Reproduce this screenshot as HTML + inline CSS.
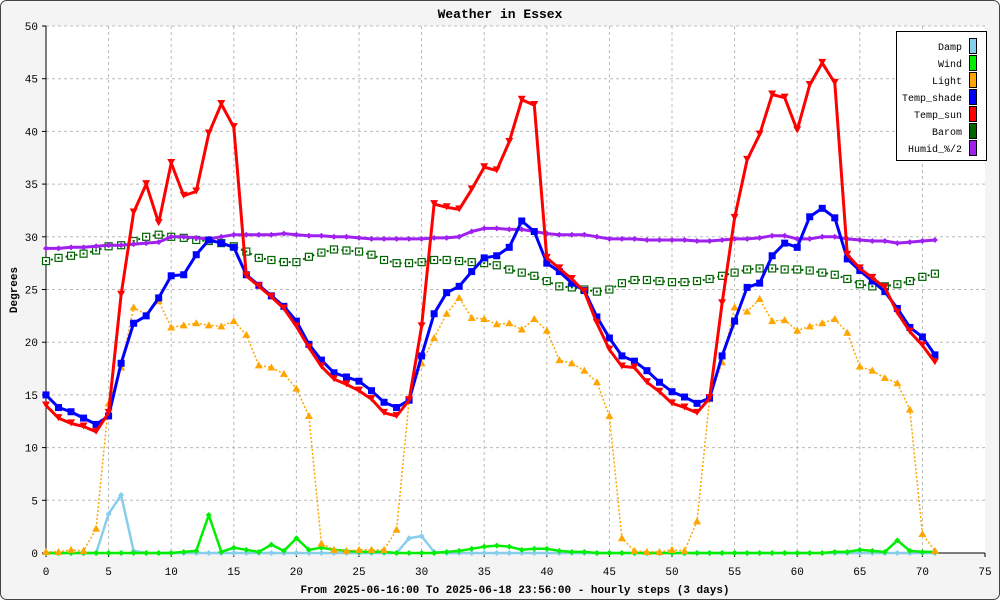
<!DOCTYPE html>
<html><head><meta charset="utf-8"><style>
body{margin:0;background:#fff}
svg{display:block;font-family:"Liberation Mono",monospace}
</style></head><body>
<svg id="chart" width="1000" height="600">
<rect x="0.5" y="0.5" width="999" height="599" rx="6" fill="#f4f4f4" stroke="#444"/>
<rect x="46" y="26" width="939" height="527" fill="#fff"/>
<text x="500" y="18" text-anchor="middle" font-size="13" font-weight="bold">Weather in Essex</text>
<text x="17" y="290" text-anchor="middle" font-size="11" font-weight="bold" transform="rotate(-90 17 290)">Degrees</text>
<text x="515" y="593" text-anchor="middle" font-size="11" font-weight="bold">From 2025-06-16:00 To 2025-06-18 23:56:00 - hourly steps (3 days)</text>
<g id="grid"></g><g id="axes"></g><g id="series"></g><g id="legend"></g>
</svg>
<script>
const xTicks=[0,5,10,15,20,25,30,35,40,45,50,55,60,65,70,75];
const yTicks=[0,5,10,15,20,25,30,35,40,45,50];
const seriesNames=["Damp","Wind","Light","Temp_shade","Temp_sun","Barom","Humid_%/2"];
const damp=[0,0,0,0,0,3.7,5.5,0.2,0,0,0,0,0,0,0,0,0,0,0,0,0,0,0,0,0,0,0,0,0,1.4,1.6,0.1,0,0,0,0,0,0,0,0,0,0,0,0,0,0,0,0,0,0,0,0,0,0,0,0,0,0,0,0,0,0,0,0,0,0,0,0,0,0,0,0];
const wind=[0,0,0,0,0,0,0,0,0,0,0,0.1,0.2,3.6,0.1,0.5,0.3,0.1,0.8,0.2,1.4,0.3,0.5,0.3,0.2,0.1,0.1,0.1,0,0,0,0,0.1,0.2,0.4,0.6,0.7,0.6,0.3,0.4,0.4,0.2,0.1,0.1,0,0,0,0,0,0,0,0,0,0,0,0,0,0,0,0,0,0,0,0.1,0.1,0.3,0.2,0.1,1.2,0.2,0.1,0.1];
const light=[0.1,0.1,0.3,0.2,2.3,14.2,17.6,23.3,22.6,23.9,21.4,21.6,21.8,21.6,21.5,22,20.7,17.8,17.6,17,15.6,13,0.9,0.3,0.2,0.3,0.3,0.3,2.2,14.5,18,20.4,22.7,24.2,22.3,22.2,21.7,21.8,21.2,22.2,21.1,18.3,18,17.3,16.2,13,1.4,0.2,0.1,0.1,0.3,0.2,3,14.6,18.1,23.3,22.9,24.1,22,22.1,21.1,21.5,21.8,22.2,20.9,17.7,17.3,16.6,16.1,13.6,1.8,0.2];
const tempShade=[15,13.8,13.4,12.8,12.2,13,18,21.8,22.5,24.2,26.3,26.4,28.3,29.7,29.4,29,26.4,25.4,24.4,23.4,22,19.8,18.3,17.1,16.7,16.3,15.4,14.3,13.8,14.5,18.7,22.7,24.7,25.3,26.7,28,28.2,29,31.5,30.5,27.5,26.7,25.6,24.9,22.4,20.4,18.7,18.2,17.3,16.2,15.3,14.8,14.2,14.7,18.7,22,25.2,25.6,28.2,29.4,29,31.9,32.7,31.8,27.9,26.8,25.8,24.8,23.2,21.4,20.5,18.8];
const tempSun=[14,12.8,12.3,12,11.5,13.3,24.5,32.3,35,31.3,37,33.9,34.3,39.8,42.6,40.4,26.3,25.3,24.3,23.2,21.5,19.5,17.7,16.5,16,15.4,14.6,13.3,13,14.5,21.5,33.1,32.8,32.6,34.5,36.6,36.3,39,43,42.5,28,27,26,24.8,21.8,19.3,17.7,17.6,16.2,15.3,14.2,13.8,13.3,14.7,23.7,31.8,37.3,39.7,43.5,43.2,40.1,44.4,46.5,44.6,28.3,27,26.1,25.2,22.8,21,19.7,18.1];
const barom=[27.7,28,28.2,28.4,28.7,29.1,29.2,29.6,30,30.2,30,29.9,29.7,29.6,29.4,29.1,28.6,28,27.8,27.6,27.6,28.1,28.5,28.8,28.7,28.6,28.3,27.8,27.5,27.5,27.6,27.8,27.8,27.7,27.6,27.5,27.3,26.9,26.6,26.3,25.8,25.3,25.2,25,24.8,25,25.6,25.9,25.9,25.8,25.7,25.7,25.8,26,26.3,26.6,26.9,27,27,26.9,26.9,26.8,26.6,26.4,26,25.5,25.3,25.3,25.5,25.8,26.2,26.5];
const humid=[28.9,28.9,29,29,29.1,29.2,29.2,29.3,29.4,29.5,30,30,29.9,29.8,30,30.2,30.2,30.2,30.2,30.3,30.2,30.1,30.1,30,30,29.9,29.8,29.8,29.8,29.8,29.8,29.9,29.9,30,30.5,30.8,30.8,30.7,30.7,30.5,30.3,30.2,30.2,30.2,30,29.8,29.8,29.8,29.7,29.7,29.7,29.7,29.6,29.6,29.7,29.8,29.8,29.9,30.1,30.1,29.8,29.8,30,30,29.8,29.7,29.6,29.6,29.4,29.5,29.6,29.7];
const X0=46,X1=985,Y0=553,Y1=26;
const xs=v=>X0+v*(X1-X0)/75, ys=v=>Y0-v*(Y0-Y1)/50;
const NS="http://www.w3.org/2000/svg";
function mk(tag,attrs,parent){const e=document.createElementNS(NS,tag);for(const k in attrs)e.setAttribute(k,attrs[k]);parent.appendChild(e);return e;}
const grid=document.getElementById('grid'),axes=document.getElementById('axes'),ser=document.getElementById('series'),leg=document.getElementById('legend');
xTicks.forEach(t=>{
 if(t>0&&t<75){const l=mk('line',{x1:xs(t),x2:xs(t),y1:Y1,y2:Y0,stroke:'#bbb','stroke-dasharray':'3,3'},grid);
 
 }
 const tk=mk('line',{x1:xs(t),x2:xs(t),y1:Y0,y2:Y0+4,stroke:'#000'},axes);
 
 
 const tx=mk('text',{x:xs(t),y:575,'text-anchor':'middle','font-size':11},axes);tx.textContent=t;
 
 
});
yTicks.forEach(t=>{
 if(t>0){const l=mk('line',{x1:X0,x2:X1,y1:ys(t),y2:ys(t),stroke:'#bbb','stroke-dasharray':'3,3'},grid);
 
 }
 const tk=mk('line',{x1:X0-4,x2:X0,y1:ys(t),y2:ys(t),stroke:'#000'},axes);
 
 
 const tx=mk('text',{x:X0-8,y:ys(t)+4,'text-anchor':'end','font-size':11},axes);tx.textContent=t;
 
 
});
const ax=mk('path',{d:`M${X0},${Y1}V${Y0}H${X1}`,stroke:'#000',fill:'none'},axes);


function marker(type,x,y,c,g){
 let e;
 if(type==='down')e=mk('path',{d:`M${x-4},${y-4}L${x+4},${y-4}L${x},${y+3}Z`,fill:c},g);
 else if(type==='up')e=mk('path',{d:`M${x-4},${y+3}L${x+4},${y+3}L${x},${y-4}Z`,fill:c},g);
 else if(type==='sq')e=mk('rect',{x:x-3.5,y:y-3.5,width:7,height:7,fill:c},g);
 else if(type==='hsq'){e=mk('g',{},g);mk('rect',{x:x-3.5,y:y-3.5,width:7,height:7,fill:'#fff',stroke:c,'stroke-width':1.2},e);mk('rect',{x:x-1,y:y-1,width:2,height:2,fill:c},e);}
 else if(type==='dia')e=mk('path',{d:`M${x},${y-3}L${x+3},${y}L${x},${y+3}L${x-3},${y}Z`,fill:c},g);
 else e=mk('circle',{cx:x,cy:y,r:3,fill:c},g);
 return e;
}
const defs=[
 ["damp",damp,'#87ceeb',2.5,null,'dia'],
 ["wind",wind,'#00ee00',2.5,null,'dia'],
 ["light",light,'#ffa500',1.5,'2,2','up'],
 ["barom",barom,'#006400',2,'2,3','hsq'],
 ["humid",humid,'#a020f0',3,null,'dia'],
 ["temp-shade",tempShade,'#0000ff',3,null,'sq'],
 ["temp-sun",tempSun,'#ff0000',3,null,'down']
];
defs.forEach(([name,vals,c,w,dash,mt])=>{
 const g=mk('g',{},ser);
 
 
 const a={d:vals.map((v,i)=>(i?'L':'M')+xs(i).toFixed(1)+','+ys(v).toFixed(1)).join(''),stroke:c,'stroke-width':w,fill:'none','stroke-linejoin':'round'};
 if(dash)a['stroke-dasharray']=dash;
 const p=mk('path',a,g);
 
 
 vals.forEach((v,i)=>{const m=marker(mt,xs(i),ys(v),c,g);
  
  });
});
const legColors=['#87ceeb','#00ee00','#ffa500','#0000ff','#ff0000','#006400','#a020f0'];
const lb=mk('rect',{x:896.5,y:31.5,width:90,height:129,fill:'#fff',stroke:'#000'},leg);


seriesNames.forEach((n,i)=>{
 const y=46+i*17;
 const t=mk('text',{x:962,y:y+4,'text-anchor':'end','font-size':10},leg);t.textContent=n;
 
 
 const r=mk('rect',{x:969.5,y:y-7.5,width:7,height:15,fill:legColors[i],stroke:'#000'},leg);
 
 
});
</script>
</body></html>
